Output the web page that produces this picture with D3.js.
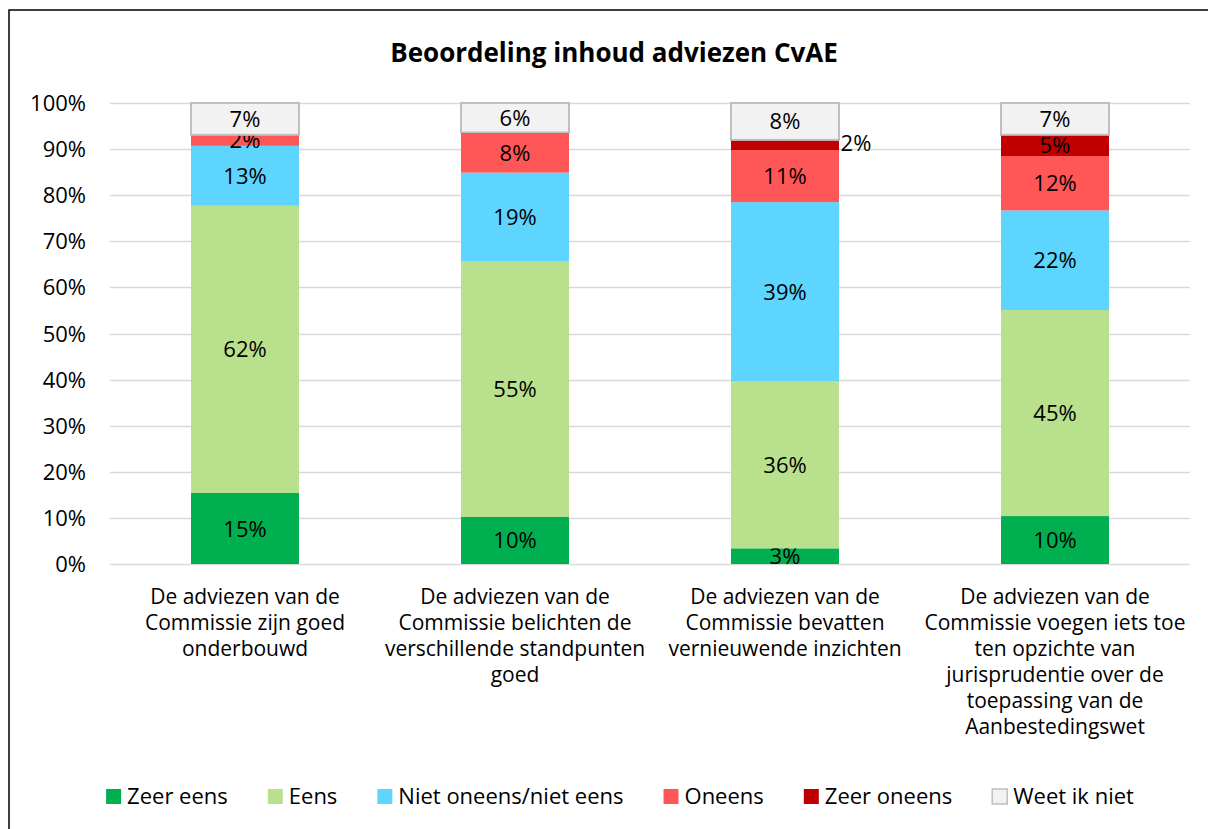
<!DOCTYPE html>
<html>
<head>
<meta charset="utf-8">
<script src="https://cdn.jsdelivr.net/npm/d3@7"></script>
<style>
  body { margin: 0; background: #fff; }
  text { font-family: "Open Sans", Lato, sans-serif; fill: #000; }
</style>
</head>
<body>
<svg id="chart" width="1208" height="829"></svg>
<script>
// data
var categories = [
  ["De adviezen van de", "Commissie zijn goed", "onderbouwd"],
  ["De adviezen van de", "Commissie belichten de", "verschillende standpunten", "goed"],
  ["De adviezen van de", "Commissie bevatten", "vernieuwende inzichten"],
  ["De adviezen van de", "Commissie voegen iets toe", "ten opzichte van", "jurisprudentie over de", "toepassing van de", "Aanbestedingswet"]
];
var seriesNames = ["Zeer eens", "Eens", "Niet oneens/niet eens", "Oneens", "Zeer oneens", "Weet ik niet"];
var zeerEens   = [15.4, 10.2, 3.4, 10.4];
var eens       = [62.3, 55.4, 36.2, 44.7];
var nietOneens = [13.0, 19.3, 38.9, 21.6];
var oneens     = [2.4, 8.4, 11.3, 11.8];
var zeerOneens = [0.0, 0.3, 2.2, 4.6];
var weetIkNiet = [6.9, 6.4, 8.0, 6.9];
var yTicks = [0, 10, 20, 30, 40, 50, 60, 70, 80, 90, 100];
var colors = ["#00b050", "#b9e08c", "#5dd5ff", "#ff5757", "#c00000", "#f2f2f2"];

var allSeries = [zeerEens, eens, nietOneens, oneens, zeerOneens, weetIkNiet];

var svg = d3.select("#chart");

// frame
svg.append("rect")
    .attr("x", 9).attr("y", 10)
    .attr("width", 1220).attr("height", 840)
    .attr("fill", "#fff")
    .attr("stroke", "#000")
    .attr("stroke-width", 1.5);

svg.append("text")
    .attr("x", 614).attr("y", 62)
    .attr("text-anchor", "middle")
    .attr("font-size", 26)
    .attr("font-weight", "bold")
    .text("Beoordeling inhoud adviezen CvAE");

var plotLeft = 110, plotRight = 1190, plotTop = 103, plotBottom = 564;

var x = d3.scaleBand()
    .domain(d3.range(categories.length))
    .range([plotLeft, plotRight])
    .paddingInner(0.6)
    .paddingOuter(0.3);

var y = d3.scaleLinear()
    .domain([0, 100])
    .range([plotBottom, plotTop]);

// grid
svg.append("g")
  .selectAll("line")
  .data(yTicks)
  .enter().append("line")
    .attr("x1", plotLeft).attr("x2", plotRight)
    .attr("y1", function(d) { return Math.round(y(d)) + 0.5; })
    .attr("y2", function(d) { return Math.round(y(d)) + 0.5; })
    .attr("stroke", "#d9d9d9")
    .attr("stroke-width", 1.5);

// y labels
svg.append("g")
  .selectAll("text")
  .data(yTicks)
  .enter().append("text")
    .attr("x", 86)
    .attr("y", function(d) { return y(d) + 8; })
    .attr("text-anchor", "end")
    .attr("font-size", 22)
    .text(function(d) { return d + "%"; });

// stacks
var rows = categories.map(function(c, i) {
  var r = { i: i };
  seriesNames.forEach(function(s, k) { r[s] = allSeries[k][i]; });
  return r;
});
var stacked = d3.stack().keys(seriesNames)(rows);

var layers = svg.append("g")
  .selectAll("g")
  .data(stacked)
  .enter().append("g")
    .attr("fill", function(d, k) { return colors[k]; });

layers.selectAll("rect")
  .data(function(d) { return d.map(function(p) { return { p: p, key: d.key }; }); })
  .enter().append("rect")
    .attr("x", function(d) { return x(d.p.data.i); })
    .attr("width", x.bandwidth())
    .attr("y", function(d) { return y(d.p[1]); })
    .attr("height", function(d) { return y(d.p[0]) - y(d.p[1]); })
    .attr("stroke", function(d) { return d.key == "Weet ik niet" ? "#bfbfbf" : "none"; })
    .attr("stroke-width", 2);

// data labels
layers.selectAll("text")
  .data(function(d) { return d.map(function(p) { return { p: p, key: d.key }; }); })
  .enter().filter(function(d) { return Math.round(d.p[1] - d.p[0]) > 0; })
  .append("text")
    .attr("x", function(d) {
      // small "zeer oneens" slice in bar 3 sits to the right of the bar
      if (d.key == "Zeer oneens" && d.p.data.i == 2) return x(d.p.data.i) + x.bandwidth() + 17;
      return x(d.p.data.i) + x.bandwidth() / 2;
    })
    .attr("y", function(d) {
      if (d.key == "Zeer oneens" && d.p.data.i == 2) return y(d.p[1]) + 11;
      return y((d.p[0] + d.p[1]) / 2) + 8;
    })
    .attr("text-anchor", "middle")
    .attr("font-size", 22)
    .style("fill", "#000")
    .text(function(d) { return Math.round(d.p[1] - d.p[0]) + "%"; });

// category labels
svg.append("g")
  .selectAll("text")
  .data(categories)
  .enter().append("text")
    .attr("x", function(d, i) { return x(i) + x.bandwidth() / 2; })
    .attr("y", 604)
    .attr("text-anchor", "middle")
    .attr("font-size", 21)
  .selectAll("tspan")
  .data(function(d) { return d; })
  .enter().append("tspan")
    .attr("x", function() { return d3.select(this.parentNode).attr("x"); })
    .attr("dy", function(d, j) { return j == 0 ? 0 : 26; })
    .text(function(d) { return d; });

// legend
var legend = svg.append("g");
var items = legend.selectAll("g")
  .data(seriesNames)
  .enter().append("g");
items.append("rect")
    .attr("width", 15).attr("height", 15)
    .attr("y", 789)
    .attr("fill", function(d, k) { return colors[k]; })
    .attr("stroke", function(d) { return d == "Weet ik niet" ? "#bfbfbf" : "none"; })
    .attr("stroke-width", 1.5);
items.append("text")
    .attr("x", 21)
    .attr("y", 804)
    .attr("font-size", 22)
    .text(function(d) { return d; });

var widths = [];
items.each(function() { widths.push(d3.select(this).select("text").node().getComputedTextLength() + 21); });
var gap = 40;
var total = d3.sum(widths) + gap * (widths.length - 1);
var pos = 620 - total / 2;
items.attr("transform", function(d, k) {
  var t = "translate(" + pos + ",0)";
  pos += widths[k] + gap;
  return t;
});
</script>
</body>
</html>
